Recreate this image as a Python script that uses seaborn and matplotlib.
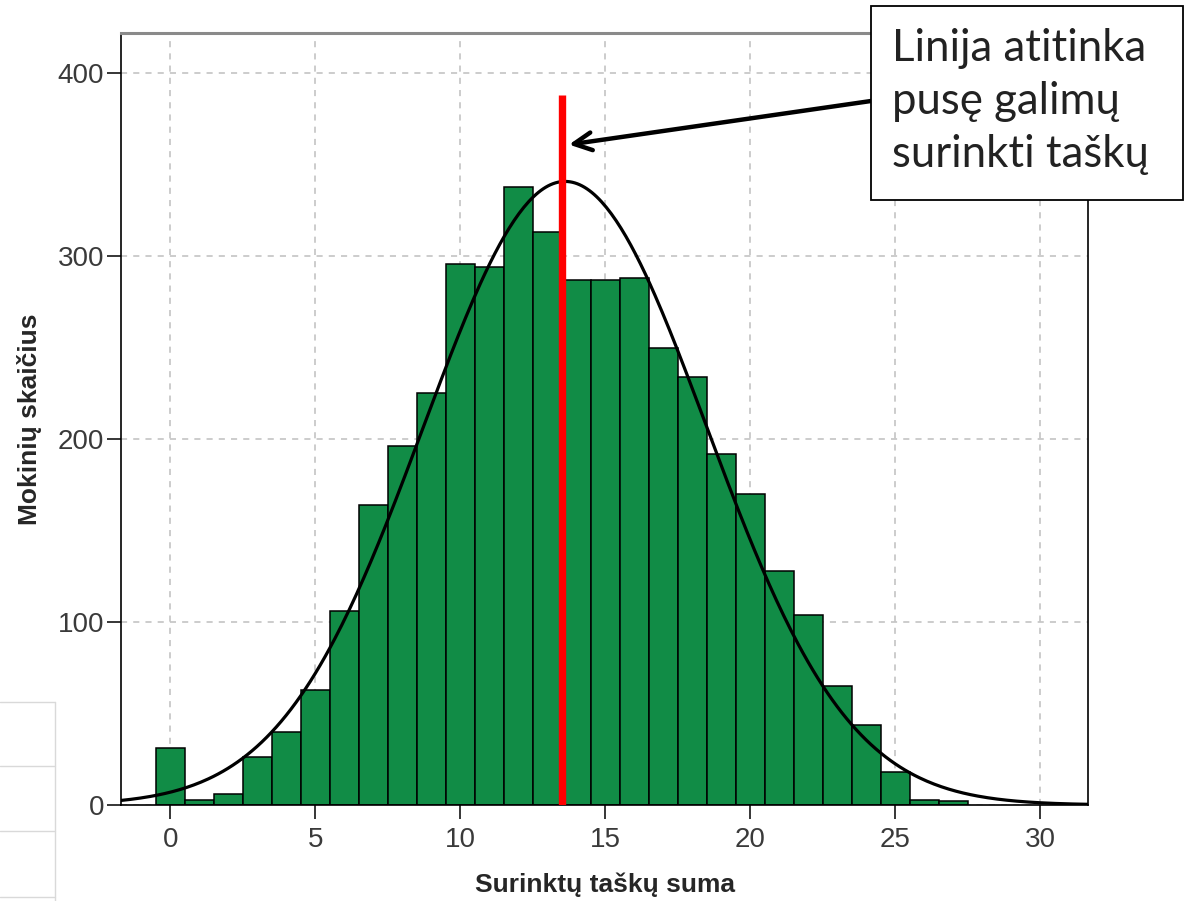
import numpy as np
import pandas as pd
import matplotlib
matplotlib.use("Agg")
import matplotlib.pyplot as plt
from matplotlib.patches import Rectangle
from matplotlib.lines import Line2D
import seaborn as sns

# score (sum of points) and number of students with that score
scores = list(range(0, 28))
counts = [31, 3, 6, 26, 40, 63, 106, 164, 196, 225, 296, 294, 338, 313,
          287, 287, 288, 250, 234, 192, 170, 128, 104, 65, 44, 18, 3, 2]
half_points = 13.5
x_ticks = [0, 5, 10, 15, 20, 25, 30]
y_ticks = [0, 100, 200, 300, 400]
note_lines = ["Linija atitinka", "pusę galimų", "surinkti taškų"]

BAR_GREEN = '#118c46'

sns.set_theme(style='white')
plt.rcParams['font.family'] = ['Liberation Sans', 'DejaVu Sans']

df = pd.DataFrame({'score': scores, 'count': counts})

fig = plt.figure(figsize=(11.85, 9.01), dpi=100)
ax = fig.add_axes([121 / 1185, 1 - 805 / 901, (1088 - 121) / 1185, (805 - 33) / 901])

sns.histplot(data=df, x='score', weights='count', discrete=True, ax=ax,
             color=BAR_GREEN, alpha=1, edgecolor='black', linewidth=1.1, zorder=2)

# normal curve fitted to the data (bin width = 1)
n = df['count'].sum()
mu = (df['score'] * df['count']).sum() / n
sd = np.sqrt(((df['score'] - mu) ** 2 * df['count']).sum() / (n - 1))
xs = np.linspace(-1.7, 31.7, 400)
curve = pd.DataFrame({'x': xs, 'y': n * np.exp(-0.5 * ((xs - mu) / sd) ** 2) / (sd * np.sqrt(2 * np.pi))})
sns.lineplot(data=curve, x='x', y='y', ax=ax, color='black', linewidth=2.3, zorder=4)

ax.plot([half_points, half_points], [0, 388], color='#ff0000', linewidth=5.3, zorder=5,
        solid_capstyle='butt')

ax.set_xlim(-1.7, 31.65)
ax.set_ylim(0, 422)
ax.set_xticks(x_ticks)
ax.set_yticks(y_ticks)
ax.grid(True, color='#bfbfbf', linestyle=(0, (4, 4)), linewidth=1.1, zorder=0)
ax.set_axisbelow(True)

ax.tick_params(axis='both', which='both', direction='out', length=10, width=1.1,
               color='black', labelsize=20, labelcolor='#3a3a3a')
ax.tick_params(axis='x', pad=6, bottom=True)
ax.tick_params(axis='y', pad=2, left=True)

for side in ['left', 'right', 'bottom']:
    ax.spines[side].set_color('black')
    ax.spines[side].set_linewidth(1.2)
ax.spines['top'].set_color('#8a8a8a')
ax.spines['top'].set_linewidth(2.2)

ax.set_xlabel('Surinktų taškų suma', fontsize=19, fontweight='bold', va='center')
ax.set_ylabel('Mokinių skaičius', fontsize=19, fontweight='bold', va='center')
ax.xaxis.set_label_coords((605 - 121) / (1088 - 121), -(885 - 805) / (805 - 33))
ax.yaxis.set_label_coords(-(121 - 30) / (1088 - 121), (805 - 419) / (805 - 33))

# annotation box + arrow
box = Rectangle((871 / 1185, 1 - 200 / 901), (1183 - 871) / 1185, (200 - 6) / 901,
                transform=fig.transFigure, facecolor='white', edgecolor='black',
                linewidth=1.3, zorder=10)
fig.patches.append(box)
fig.text(892 / 1185, 1 - 28 / 901, "\n".join(note_lines), ha='left', va='top',
         fontsize=31.5, family=['Lato', 'DejaVu Sans'], color='#222222',
         linespacing=1.36, zorder=11)
ax.annotate('', xy=(13.75, 361), xycoords='data',
            xytext=(871 / 1185, 1 - 101 / 901), textcoords='figure fraction',
            arrowprops=dict(arrowstyle='->', color='black', lw=3.2, mutation_scale=32,
                            shrinkA=0, shrinkB=0), zorder=9)

# leftover table lines at the bottom-left of the screenshot
for y in [702, 766, 831, 897]:
    fig.add_artist(Line2D([0, 55 / 1185], [1 - y / 901, 1 - y / 901],
                          transform=fig.transFigure, color='#d9d9d9', linewidth=1))
fig.add_artist(Line2D([55 / 1185, 55 / 1185], [0, 1 - 702 / 901],
                      transform=fig.transFigure, color='#d9d9d9', linewidth=1))

fig.savefig('out.png', dpi=100)
